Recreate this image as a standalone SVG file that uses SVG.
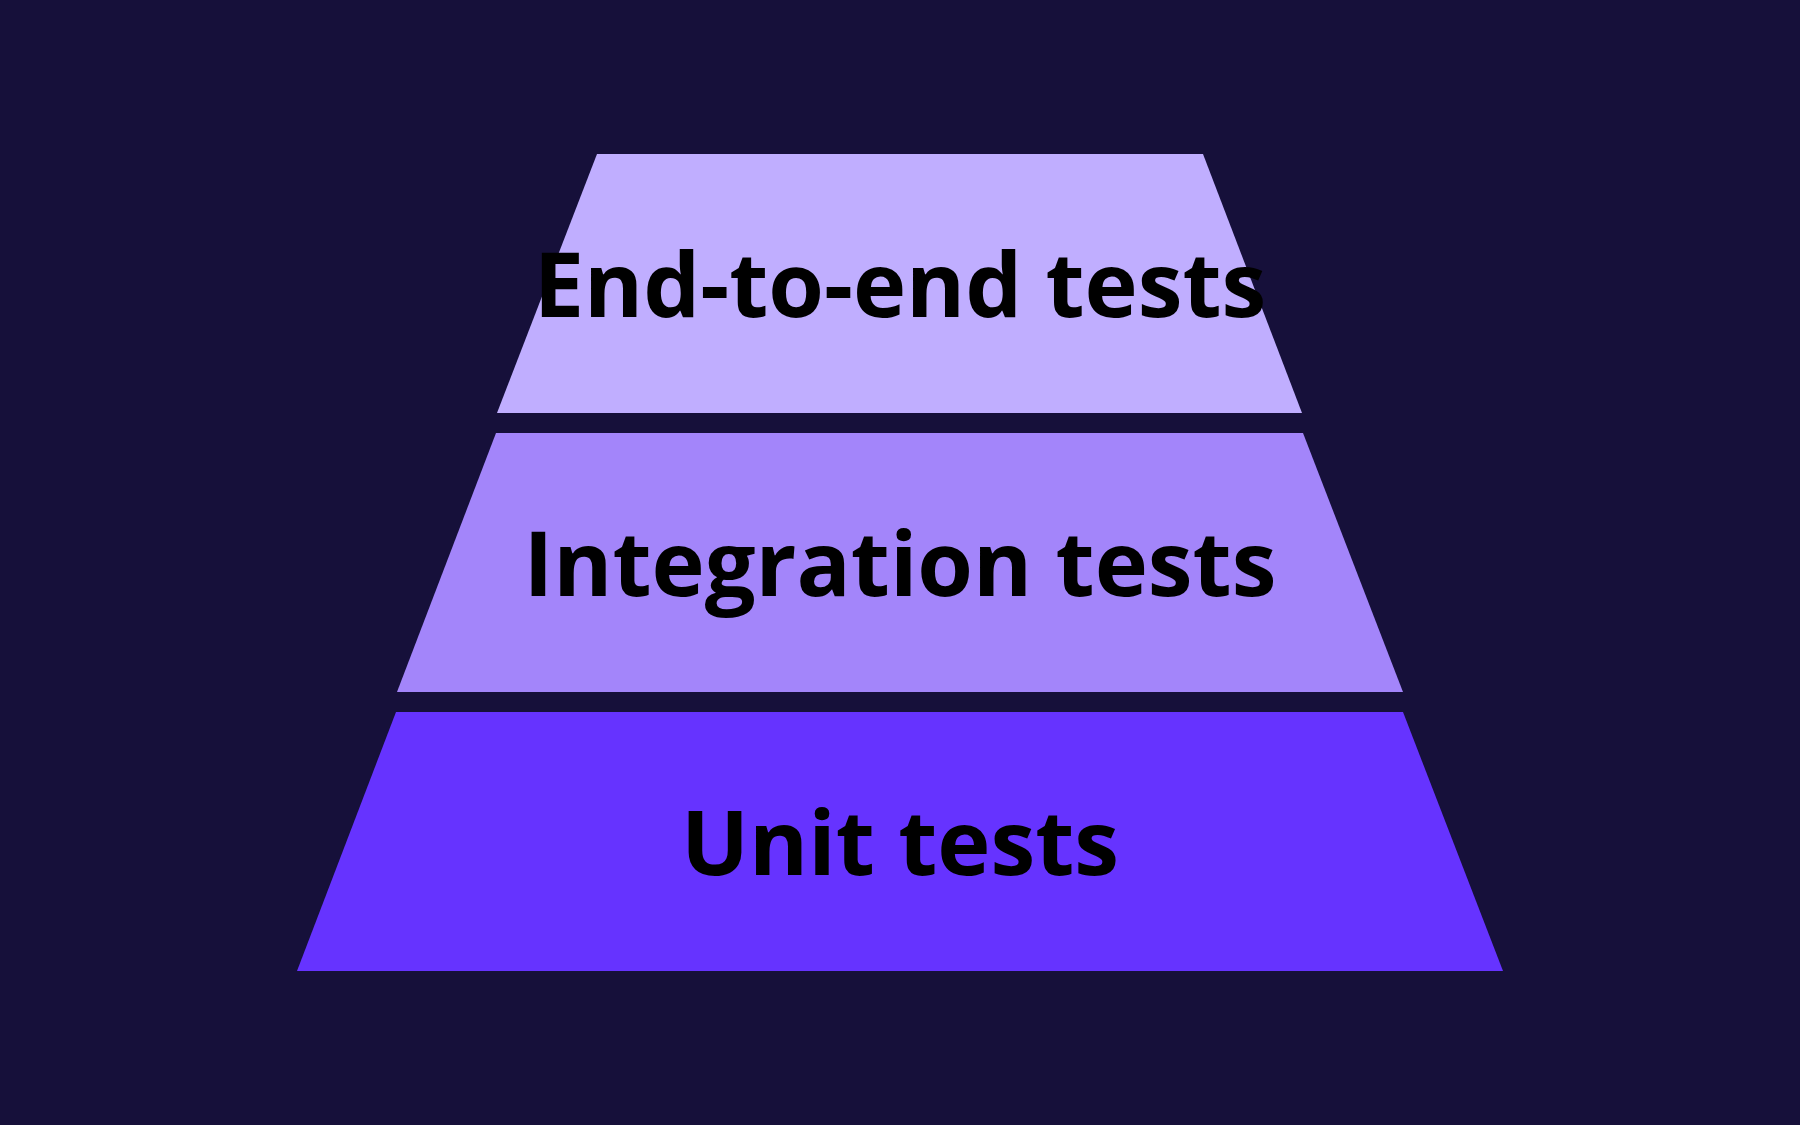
<svg xmlns="http://www.w3.org/2000/svg" width="1800" height="1125" viewBox="0 0 1800 1125">
<style>
.t{font-family:"Open Sans","Noto Sans",sans-serif;font-weight:700;font-size:90px;fill:#000;text-anchor:middle}
</style>
<rect width="1800" height="1125" fill="#16103a"/>
<g id="e2e"><polygon points="597,154 1203,154 1302,413 497,413" fill="#c0aeff"/><text class="t" x="900" y="317">End-to-end tests</text></g>
<g id="integration"><polygon points="496,433 1303,433 1403,692 397,692" fill="#a385fa"/><text class="t" x="900" y="596">Integration tests</text></g>
<g id="unit"><polygon points="396,712 1403,712 1503,971 297,971" fill="#6633ff"/><text class="t" x="900" y="875">Unit tests</text></g>
<g id="connectors"/>
</svg>
